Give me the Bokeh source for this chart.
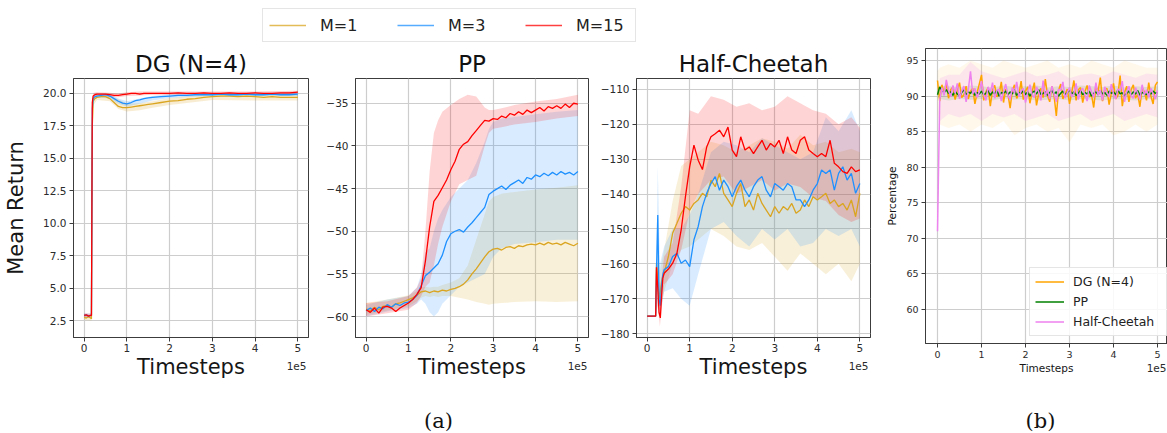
from bokeh.plotting import figure
from bokeh.layouts import column, row
from bokeh.models import (Range1d, FixedTicker, Legend, LegendItem,
                          NumeralTickFormatter, CustomJSTickFormatter)
from bokeh.core.properties import value
from bokeh.embed import file_html
from bokeh.resources import INLINE

# ---------------- data ----------------
series_names = ["M=1", "M=3", "M=15"]
series_colors = ["#DAA520", "#1E90FF", "#FF0000"]
panel_titles = ["DG (N=4)", "PP", "Half-Cheetah"]

# DG (N=4)
dg_x = [0, 0.05, 0.1, 0.15, 0.17, 0.19, 0.21, 0.25, 0.3, 0.4, 0.5, 0.6, 0.7, 0.8, 0.9, 1.0,
        1.1, 1.2, 1.3, 1.4, 1.5, 1.6, 1.8, 2.0, 2.2, 2.4, 2.6, 2.8, 3.0, 3.2, 3.4, 3.6, 3.8,
        4.0, 4.2, 4.4, 4.6, 4.8, 5.0]
dg_m1 = [2.75, 2.7, 2.8, 2.7, 2.65, 17.5, 19.4, 19.6, 19.7, 19.75, 19.75, 19.6, 19.3, 19.0,
         18.9, 18.9, 18.95, 19.0, 19.05, 19.1, 19.15, 19.2, 19.3, 19.4, 19.45, 19.55, 19.6,
         19.7, 19.75, 19.8, 19.8, 19.75, 19.8, 19.75, 19.7, 19.75, 19.7, 19.7, 19.7]
dg_m3 = [2.9, 2.95, 2.85, 2.9, 2.9, 18.8, 19.6, 19.75, 19.8, 19.85, 19.9, 19.8, 19.6, 19.4,
         19.25, 19.2, 19.3, 19.45, 19.5, 19.6, 19.65, 19.7, 19.75, 19.8, 19.85, 19.85, 19.9,
         19.9, 19.9, 19.95, 19.9, 19.9, 19.95, 19.9, 19.9, 19.95, 19.9, 19.9, 19.95]
dg_m15 = [2.9, 2.95, 2.85, 2.9, 2.9, 19.3, 19.8, 19.9, 19.95, 19.95, 19.95, 19.9, 19.85,
          19.85, 19.9, 19.95, 20.0, 20.0, 19.95, 20.0, 20.0, 20.0, 20.0, 20.0, 20.05, 20.0,
          20.0, 20.05, 20.0, 20.0, 20.05, 20.0, 20.0, 20.05, 20.0, 20.0, 20.05, 20.05, 20.1]
dg_bx = [0, 0.17, 0.19, 0.22, 0.3, 0.6, 0.8, 1.0, 1.3, 1.6, 2.0, 2.5, 3.0, 4.0, 5.0]
dg_m1_lo = [2.55, 2.5, 16.8, 19.1, 19.5, 19.4, 18.8, 18.6, 18.7, 18.9, 19.1, 19.3, 19.5, 19.45, 19.45]
dg_m1_hi = [2.95, 2.9, 18.4, 19.7, 19.9, 19.85, 19.55, 19.2, 19.25, 19.4, 19.65, 19.8, 19.95, 19.95, 19.95]
dg_m3_lo = [2.75, 2.75, 18.2, 19.5, 19.7, 19.6, 19.2, 19.0, 19.2, 19.45, 19.65, 19.75, 19.8, 19.8, 19.8]
dg_m3_hi = [3.05, 3.05, 19.4, 19.85, 19.95, 19.95, 19.6, 19.4, 19.6, 19.8, 19.95, 20.0, 20.0, 20.05, 20.05]
dg_m15_lo = [2.75, 2.75, 18.8, 19.7, 19.8, 19.75, 19.7, 19.8, 19.85, 19.9, 19.9, 19.9, 19.9, 19.9, 19.95]
dg_m15_hi = [3.05, 3.05, 19.7, 20.05, 20.1, 20.05, 20.0, 20.1, 20.15, 20.15, 20.15, 20.15, 20.15, 20.15, 20.2]

# PP
pp_x = [round(0.1 * i, 1) for i in range(51)]
pp_m1 = [-59.1, -59.3, -58.9, -59.2, -58.8, -58.7, -58.9, -58.5, -58.4, -58.2,
         -58.0, -57.8, -57.5, -57.1, -57.0, -57.2, -57.0, -57.1, -56.9, -57.0,
         -56.8, -56.7, -56.5, -56.2, -55.7, -55.0, -54.4, -53.7, -53.0, -52.4,
         -52.1, -52.0, -52.2, -51.9, -51.8, -52.0, -51.7, -51.8, -51.6, -51.5,
         -51.6, -51.4, -51.6, -51.3, -51.5, -51.4, -51.6, -51.3, -51.5, -51.7, -51.4]
pp_m3 = [-59.3, -59.0, -59.4, -58.9, -59.1, -58.6, -58.9, -58.5, -58.7, -58.4,
         -58.3, -58.0, -57.5, -56.4, -55.2, -54.8, -54.3, -53.8, -52.8, -51.2,
         -50.3, -50.0, -49.8, -50.1, -49.5, -49.0, -48.4, -47.8, -47.2, -45.7,
         -45.3, -45.0, -44.7, -45.1, -44.6, -44.3, -44.0, -44.4, -43.7, -43.9,
         -43.4, -43.6, -43.2, -43.5, -43.1, -43.4, -43.0, -43.3, -43.1, -43.4, -43.0]
pp_m15 = [-59.2, -59.5, -59.0, -59.6, -58.9, -58.8, -59.0, -59.4, -59.0, -58.7,
          -58.4, -58.0, -57.4, -56.6, -53.5, -49.5, -46.5, -45.8, -44.9, -44.0,
          -42.8, -41.8, -40.4, -39.8, -39.5, -38.8, -38.2, -37.6, -37.0, -37.1,
          -36.8, -36.9, -36.5, -36.7, -36.2, -36.4, -36.0, -36.3, -35.8, -36.1,
          -35.8, -35.5, -35.9, -35.4, -35.6, -35.3, -35.6, -35.1, -35.5, -35.0, -35.1]
pp_bx = [0, 0.5, 1.0, 1.2, 1.3, 1.4, 1.5, 1.6, 1.7, 1.8, 2.0, 2.2, 2.4, 2.6, 2.8, 2.9,
         3.0, 3.2, 3.5, 4.0, 4.5, 5.0]
pp_m1_lo = [-59.8, -59.3, -58.8, -58.2, -57.8, -57.6, -57.7, -57.6, -57.7, -57.6, -57.6,
            -57.8, -58.0, -58.3, -58.5, -58.6, -58.5, -58.4, -58.3, -58.2, -58.3, -58.2]
pp_m1_hi = [-58.4, -58.0, -57.5, -57.0, -56.6, -56.5, -56.6, -56.5, -56.5, -56.3, -56.0,
            -55.5, -54.0, -51.0, -48.0, -46.5, -46.0, -45.6, -45.4, -45.1, -44.9, -44.6]
pp_m3_lo = [-60.0, -59.4, -59.0, -58.5, -58.0, -58.5, -59.5, -60.0, -59.5, -58.5, -57.5,
            -56.5, -56.0, -55.5, -55.0, -54.0, -53.0, -52.0, -51.5, -51.3, -51.0, -51.0]
pp_m3_hi = [-58.6, -58.0, -57.6, -56.6, -55.0, -52.5, -52.0, -50.0, -48.5, -47.5, -46.0,
            -45.0, -44.0, -42.0, -39.5, -38.0, -37.2, -36.8, -36.6, -36.3, -36.0, -35.8]
pp_m15_lo = [-60.0, -59.6, -59.2, -58.4, -57.6, -56.5, -56.0, -54.0, -51.5, -49.5, -46.5,
             -44.5, -44.0, -43.5, -40.0, -38.5, -38.0, -37.8, -37.5, -37.2, -36.8, -36.5]
pp_m15_hi = [-58.4, -58.2, -57.6, -56.6, -55.5, -50.0, -43.0, -38.5, -37.0, -36.0, -35.2,
             -34.5, -34.0, -34.2, -35.5, -35.8, -35.8, -35.6, -35.2, -34.8, -34.5, -34.0]

# Half-Cheetah
hc_x = [0.0, 0.1, 0.2, 0.22, 0.25, 0.28, 0.31, 0.34, 0.37,
        0.4, 0.5, 0.6, 0.7, 0.8, 0.9,
        1.0, 1.1, 1.2, 1.3, 1.4, 1.5, 1.6, 1.7, 1.8, 1.9,
        2.0, 2.1, 2.2, 2.3, 2.4, 2.5, 2.6, 2.7, 2.8, 2.9,
        3.0, 3.1, 3.2, 3.3, 3.4, 3.5, 3.6, 3.7, 3.8, 3.9,
        4.0, 4.1, 4.2, 4.3, 4.4, 4.5, 4.6, 4.7, 4.8, 4.9, 5.0]
hc_m1 = [-175.0, -175.0, -175.0, -160.0, -164.0, -170.0, -168.0, -165.0, -163.5,
         -162.7, -157.9, -151.2, -148.4, -145.5, -143.6,
         -144.6, -142.7, -141.7, -139.8, -140.8, -136.0, -137.9, -134.1, -139.8, -141.7,
         -143.6, -139.8, -137.0, -143.6, -141.7, -144.6, -139.8, -142.7, -144.6, -146.5,
         -143.6, -145.5, -143.6, -144.6, -142.7, -145.5, -144.6, -141.7, -143.6, -140.8,
         -141.7, -140.8, -139.8, -142.7, -141.7, -143.6, -142.7, -144.6, -141.7, -146.5, -139.8]
hc_m3 = [-175.0, -175.0, -175.0, -162.0, -146.0, -170.0, -172.0, -166.0, -163.0,
         -161.7, -160.8, -157.9, -157.0, -159.8, -158.9,
         -160.8, -153.1, -149.3, -143.6, -139.8, -137.0, -135.0, -138.9, -136.0, -137.9,
         -140.8, -137.9, -136.0, -138.9, -140.8, -137.9, -136.0, -135.0, -138.9, -140.8,
         -137.0, -137.9, -138.9, -137.0, -137.9, -141.7, -141.7, -143.6, -141.7, -138.9,
         -137.0, -133.1, -134.1, -133.1, -138.9, -134.1, -132.2, -136.0, -134.1, -139.8, -137.0]
hc_m15 = [-175.0, -175.0, -175.0, -161.0, -167.0, -174.0, -175.5, -169.0, -164.0,
          -162.7, -161.5, -159.8, -157.0, -150.3, -140.8,
          -132.2, -126.0, -130.3, -133.0, -126.5, -123.6, -122.7, -121.7, -123.6, -120.8,
          -127.4, -129.3, -123.6, -127.4, -126.5, -128.4, -126.5, -124.6, -127.4, -125.5,
          -126.5, -124.6, -128.4, -123.6, -127.4, -128.4, -124.6, -123.6, -127.4, -128.4,
          -129.3, -128.4, -129.3, -124.6, -131.2, -132.2, -133.6, -134.1, -132.2, -133.6, -133.1]
hc_bx = [0, 0.2, 0.25, 0.3, 0.4, 0.6, 0.8, 1.0, 1.2, 1.5, 1.8, 2.1, 2.4, 2.7, 3.0, 3.3,
         3.6, 3.9, 4.2, 4.5, 4.8, 5.0]
hc_m1_lo = [-175, -175, -168, -174, -168, -160, -156, -155, -153, -150, -152, -155, -156,
            -154, -158, -162, -157, -160, -163, -160, -165, -160]
hc_m1_hi = [-175, -175, -155, -162, -156, -142, -132, -130, -128, -125, -126, -128, -126,
            -124, -125, -127, -123, -126, -125, -128, -127, -128]
hc_m3_lo = [-175, -175, -170, -175, -168, -167, -170, -172, -163, -150, -148, -152, -155,
            -150, -153, -150, -155, -154, -150, -152, -150, -155]
hc_m3_hi = [-175, -175, -132, -160, -155, -150, -150, -146, -140, -128, -125, -126, -128,
            -124, -126, -128, -130, -128, -118, -122, -116, -122]
hc_m15_lo = [-175, -175, -172, -178, -166, -163, -156, -145, -140, -136, -135, -140, -138,
             -136, -139, -137, -138, -141, -142, -146, -148, -147]
hc_m15_hi = [-175, -175, -160, -168, -158, -154, -138, -116, -117, -112, -113, -115, -114,
             -116, -115, -112, -114, -116, -117, -120, -118, -121]

# Panel (b): percentage
b_names = ["DG (N=4)", "PP", "Half-Cheetah"]
b_colors = ["#FFA500", "#008000", "#EE82EE"]
b_x = [round(0.05 * i, 2) for i in range(101)]
b_dg = [92.2, 89.3, 91.6, 90.4, 91.8, 89.7, 90.9, 91.3, 89.5, 90.8,
        91.9, 89.8, 90.2, 91.4, 89.6, 90.7, 91.1, 88.9, 90.5, 91.7,
        93.0, 89.4, 90.6, 91.2, 88.6, 90.9, 91.5, 89.9, 90.3, 92.0,
        89.1, 91.0, 90.4, 88.3, 90.8, 91.6, 89.7, 90.2, 92.1, 89.5,
        90.7, 91.3, 89.0, 90.6, 91.9, 88.7, 90.4, 91.1, 89.8, 92.4,
        90.1, 89.2, 91.4, 90.0, 87.2, 90.8, 91.7, 89.6, 90.3, 91.0,
        88.9, 90.5, 92.2, 89.4, 90.9, 91.2, 89.1, 90.6, 91.5, 89.9,
        90.2, 88.4, 91.3, 90.7, 92.6, 89.3, 90.8, 91.1, 88.8, 90.4,
        91.8, 89.6, 90.1, 92.9, 88.6, 90.5, 91.4, 89.2, 90.9, 91.6,
        89.7, 90.3, 88.5, 91.2, 90.6, 89.4, 91.9, 90.0, 88.9, 91.5, 92.0]
b_pp = [90.2, 91.3, 90.8, 90.5, 90.9, 90.4, 90.6, 90.1, 90.7, 90.3,
        90.0, 90.5, 90.9, 90.2, 90.6, 90.4, 90.8, 90.1, 90.5, 90.3,
        90.7, 90.2, 90.4, 90.9, 90.1, 90.6, 90.3, 90.8, 90.0, 90.5,
        90.4, 90.7, 90.2, 90.6, 90.3, 90.9, 90.1, 90.5, 90.4, 90.8,
        90.2, 90.6, 90.0, 90.5, 90.7, 90.3, 90.9, 90.2, 90.4, 90.6,
        90.1, 90.5, 90.8, 90.3, 90.6, 90.0, 90.4, 90.7, 90.2, 90.5,
        90.9, 90.3, 90.6, 90.1, 90.4, 90.8, 90.2, 90.5, 90.3, 90.7,
        90.0, 90.4, 90.6, 90.2, 90.8, 90.3, 90.5, 90.1, 90.7, 90.4,
        90.6, 90.2, 90.9, 90.3, 90.5, 90.0, 90.4, 90.7, 90.2, 90.6,
        90.3, 90.8, 90.1, 90.5, 90.4, 90.2, 90.6, 90.3, 90.7, 90.4, 90.5]
b_hc = [71.0, 89.5, 91.2, 90.1, 92.3, 90.8, 89.9, 91.5, 90.4, 91.8,
        89.6, 90.7, 91.4, 89.2, 90.9, 93.5, 90.3, 91.1, 89.8, 90.6,
        92.1, 90.2, 89.4, 91.3, 90.5, 91.9, 89.7, 90.8, 91.0, 89.3,
        90.6, 91.7, 90.1, 89.5, 91.2, 90.4, 92.0, 89.9, 90.7, 91.1,
        89.1, 90.5, 91.6, 90.2, 89.8, 91.3, 90.6, 89.4, 92.2, 90.0,
        90.9, 89.6, 91.4, 90.3, 89.2, 91.0, 90.8, 92.0, 89.7, 90.5,
        91.2, 89.9, 90.4, 91.8, 89.5, 90.7, 91.1, 90.2, 89.3, 91.5,
        90.6, 89.8, 91.9, 90.1, 90.9, 89.4, 91.3, 90.5, 89.9, 91.7,
        90.3, 89.6, 91.0, 90.8, 92.1, 89.2, 90.6, 91.4, 90.0, 89.7,
        91.2, 90.4, 89.5, 91.6, 90.2, 90.9, 89.8, 91.1, 90.3, 89.6, 90.8]
b_bx = [0, 0.05, 0.25, 0.5, 0.75, 1.0, 1.25, 1.5, 1.75, 2.0, 2.25, 2.5, 2.75, 3.0, 3.25,
        3.5, 3.75, 4.0, 4.25, 4.5, 4.75, 5.0]
b_dg_lo = [87.5, 86.0, 85.5, 86.0, 85.0, 86.0, 85.5, 86.5, 84.5, 85.5, 86.0, 85.0, 85.5,
           83.5, 86.0, 85.5, 86.0, 84.5, 85.0, 86.0, 85.0, 86.0]
b_dg_hi = [93.5, 94.0, 94.5, 94.0, 95.0, 94.5, 94.0, 95.0, 94.5, 94.0, 94.5, 95.0, 94.0,
           94.5, 94.0, 95.0, 94.5, 94.0, 95.0, 94.5, 94.0, 94.0]
b_pp_lo = [89.8, 89.6, 89.4, 89.6, 89.5, 89.6, 89.4, 89.7, 89.5, 89.6, 89.4, 89.5, 89.6,
           89.4, 89.6, 89.5, 89.4, 89.6, 89.5, 89.4, 89.6, 89.5]
b_pp_hi = [91.0, 91.5, 91.4, 91.3, 91.5, 91.4, 91.2, 91.5, 91.3, 91.4, 91.5, 91.2, 91.4,
           91.3, 91.5, 91.4, 91.3, 91.5, 91.2, 91.4, 91.3, 91.4]
b_hc_lo = [71.0, 86.5, 87.5, 87.0, 87.5, 86.5, 87.5, 87.0, 87.5, 86.5, 87.0, 87.5, 86.5,
           87.0, 87.5, 86.5, 87.0, 87.5, 86.5, 87.0, 87.5, 87.0]
b_hc_hi = [71.0, 92.5, 93.0, 93.0, 94.8, 93.5, 93.0, 92.5, 93.0, 93.5, 92.8, 93.0, 93.5,
           92.5, 93.0, 93.2, 92.8, 93.5, 93.0, 92.6, 93.2, 93.0]

x_ticks = [0, 1, 2, 3, 4, 5]
dg_yticks = [2.5, 5.0, 7.5, 10.0, 12.5, 15.0, 17.5, 20.0]
pp_yticks = [-60, -55, -50, -45, -40, -35]
hc_yticks = [-180, -170, -160, -150, -140, -130, -120, -110]
b_yticks = [60, 65, 70, 75, 80, 85, 90, 95]

# ---------------- styling helpers ----------------
FONT = "DejaVu Sans"
INK = "#2b2b2b"
SPINE = "#3c3c3c"
GRID = "#cdcdcd"
MINUS_FMT = CustomJSTickFormatter(code="return tick < 0 ? '\u2212' + Math.abs(tick) : String(tick);")


def base(width, height, xr, yr, bl, br, bt, bb, title=None, tick_fs="10.5px"):
    p = figure(width=width, height=height, x_range=Range1d(*xr), y_range=Range1d(*yr),
               output_backend="svg", toolbar_location=None, title=title,
               min_border_left=bl, min_border_right=br, min_border_top=bt, min_border_bottom=bb)
    p.background_fill_color = "white"
    p.border_fill_color = "white"
    p.outline_line_color = SPINE
    p.outline_line_width = 1
    p.xgrid.grid_line_color = GRID
    p.ygrid.grid_line_color = GRID
    p.xgrid.grid_line_width = 1.2
    p.ygrid.grid_line_width = 1.2
    for ax in (p.xaxis[0], p.yaxis[0]):
        ax.axis_line_color = SPINE
        ax.major_tick_line_color = SPINE
        ax.major_tick_in = 0
        ax.major_tick_out = 4
        ax.minor_tick_line_color = None
        ax.major_label_text_font = FONT
        ax.major_label_text_font_size = tick_fs
        ax.major_label_text_color = INK
        ax.axis_label_text_font = FONT
        ax.axis_label_text_font_style = "normal"
        ax.axis_label_text_color = "#161616"
    p.xaxis.ticker = FixedTicker(ticks=x_ticks)
    p.xaxis.major_label_standoff = 2
    p.yaxis.major_label_standoff = 3
    if title:
        p.title.text_font = FONT
        p.title.text_font_size = "23px"
        p.title.text_font_style = "normal"
        p.title.align = "center"
        p.title.text_color = "#111111"
        p.title.standoff = 3
    return p


def text_strip(width, height, x0, y_top):
    s = figure(width=width, height=height, x_range=Range1d(x0, x0 + width),
               y_range=Range1d(433, y_top), output_backend="svg", toolbar_location=None,
               min_border=0, title=None, x_axis_location=None, y_axis_location=None)
    s.grid.visible = False
    s.outline_line_color = None
    return s


XR = (-0.25, 5.25)

# ---------------- panel 1: DG ----------------
f1 = base(315, 308, XR, (1.2, 21.15), 73, 7, 32, 16, title=panel_titles[0])
f1.yaxis.ticker = FixedTicker(ticks=dg_yticks)
f1.yaxis.formatter = NumeralTickFormatter(format="0.0")
f1.yaxis.axis_label = "Mean Return"
f1.yaxis.axis_label_text_font_size = "21px"
f1.yaxis.axis_label_standoff = 12
for lo, hi, c in zip([dg_m1_lo, dg_m3_lo, dg_m15_lo], [dg_m1_hi, dg_m3_hi, dg_m15_hi], series_colors):
    f1.varea(x=dg_bx, y1=lo, y2=hi, fill_color=c, fill_alpha=0.2)
for ys, c in zip([dg_m1, dg_m3, dg_m15], series_colors):
    f1.line(dg_x, ys, line_color=c, line_width=1.3)

# ---------------- panel 2: PP ----------------
f2 = base(277, 308, XR, (-62.45, -32.1), 40, 4, 32, 16, title=panel_titles[1])
f2.yaxis.ticker = FixedTicker(ticks=pp_yticks)
f2.yaxis.formatter = MINUS_FMT
for lo, hi, c in zip([pp_m1_lo, pp_m3_lo, pp_m15_lo], [pp_m1_hi, pp_m3_hi, pp_m15_hi], series_colors):
    f2.varea(x=pp_bx, y1=lo, y2=hi, fill_color=c, fill_alpha=0.17)
for ys, c in zip([pp_m1, pp_m3, pp_m15], series_colors):
    f2.line(pp_x, ys, line_color=c, line_width=1.3)

# ---------------- panel 3: Half-Cheetah ----------------
f3 = base(284, 308, XR, (-181.1, -106.9), 44, 6, 32, 16, title=panel_titles[2])
f3.yaxis.ticker = FixedTicker(ticks=hc_yticks)
f3.yaxis.formatter = MINUS_FMT
for lo, hi, c in zip([hc_m1_lo, hc_m3_lo, hc_m15_lo], [hc_m1_hi, hc_m3_hi, hc_m15_hi], series_colors):
    f3.varea(x=hc_bx, y1=lo, y2=hi, fill_color=c, fill_alpha=0.17)
for ys, c in zip([hc_m1, hc_m3, hc_m15], series_colors):
    f3.line(hc_x, ys, line_color=c, line_width=1.3)

# ---------------- panel 4: percentage ----------------
f4 = base(291, 316, (-0.273, 5.227), (55.2, 96.7), 49, 0, 2, 19, tick_fs="9.5px")
f4.xaxis.major_label_standoff = 3
f4.yaxis.ticker = FixedTicker(ticks=b_yticks)
f4.yaxis.axis_label = "Percentage"
f4.yaxis.axis_label_text_font_size = "10.5px"
f4.yaxis.axis_label_standoff = 5
band_alphas = [0.08, 0.12, 0.15]
for lo, hi, c, a in zip([b_dg_lo, b_pp_lo, b_hc_lo], [b_dg_hi, b_pp_hi, b_hc_hi], b_colors, band_alphas):
    f4.varea(x=b_bx, y1=lo, y2=hi, fill_color=c, fill_alpha=a)
b_renderers = []
for ys, c in zip([b_dg, b_pp, b_hc], b_colors):
    b_renderers.append(f4.line(b_x, ys, line_color=c, line_width=1.5))
leg_b = Legend(items=[LegendItem(label=n, renderers=[r]) for n, r in zip(b_names, b_renderers)],
               location=(104, 7), orientation="vertical",
               label_text_font=FONT, label_text_font_size="12.5px", label_text_color="#222222",
               glyph_width=29, glyph_height=17, label_height=17, label_width=91,
               label_standoff=9, spacing=3, padding=5, margin=0,
               border_line_color="#cccccc", border_line_width=1,
               background_fill_color="white", background_fill_alpha=0.85)
f4.add_layout(leg_b)

# ---------------- shared legend on top ----------------
top = figure(width=1167, height=46, x_range=Range1d(0, 1), y_range=Range1d(-2, -1),
             output_backend="svg", toolbar_location=None, min_border=0, title=None,
             x_axis_location=None, y_axis_location=None)
top.grid.visible = False
top.outline_line_color = None
top_r = [top.line(x=dg_x, y=ys, line_color=c, line_width=1.3, line_alpha=0.75)
         for ys, c in zip([dg_m1, dg_m3, dg_m15], series_colors)]
leg_top = Legend(items=[LegendItem(label=n, renderers=[r]) for n, r in zip(series_names, top_r)],
                 location=(262, 4), orientation="horizontal",
                 label_text_font=FONT, label_text_font_size="16px", label_text_color="#222222",
                 glyph_width=37, glyph_height=20, label_height=20, label_width=53,
                 label_standoff=14, spacing=24, padding=6, margin=0,
                 border_line_color="#cccccc", border_line_width=1,
                 background_fill_color="white", background_fill_alpha=0.85)
top.add_layout(leg_top)

# ---------------- bottom strips: axis titles, offsets, captions ----------------
strip_a = text_strip(876, 79, 0, 354)
strip_a.text(x=[190.5, 471.5, 753], y=[366, 366, 366], text=["Timesteps"] * 3,
             text_font=value(FONT), text_font_size=value("21px"), text_color="#161616",
             text_align="center", text_baseline="alphabetic")
strip_a.text(x=[306, 587, 868], y=[365.5, 365.5, 365.5], text=["1e5"] * 3,
             text_font=value(FONT), text_font_size=value("10.5px"), text_color=INK,
             text_align="right", text_baseline="alphabetic")
strip_a.text(x=[438], y=[420], text=["(a)"],
             text_font=value("DejaVu Serif"), text_font_size=value("21px"), text_color="#111111",
             text_align="center", text_baseline="alphabetic")

strip_b = text_strip(291, 71, 876, 362)
strip_b.text(x=[1046], y=[367.5], text=["Timesteps"],
             text_font=value(FONT), text_font_size=value("10.5px"), text_color="#161616",
             text_align="center", text_baseline="alphabetic")
strip_b.text(x=[1166], y=[367.5], text=["1e5"],
             text_font=value(FONT), text_font_size=value("10.5px"), text_color=INK,
             text_align="right", text_baseline="alphabetic")
strip_b.text(x=[1040], y=[420], text=["(b)"],
             text_font=value("DejaVu Serif"), text_font_size=value("21px"), text_color="#111111",
             text_align="center", text_baseline="alphabetic")

layout = column(top, row(column(row(f1, f2, f3), strip_a), column(f4, row(strip_b))))
open("out.html", "w").write(file_html(layout, INLINE))
